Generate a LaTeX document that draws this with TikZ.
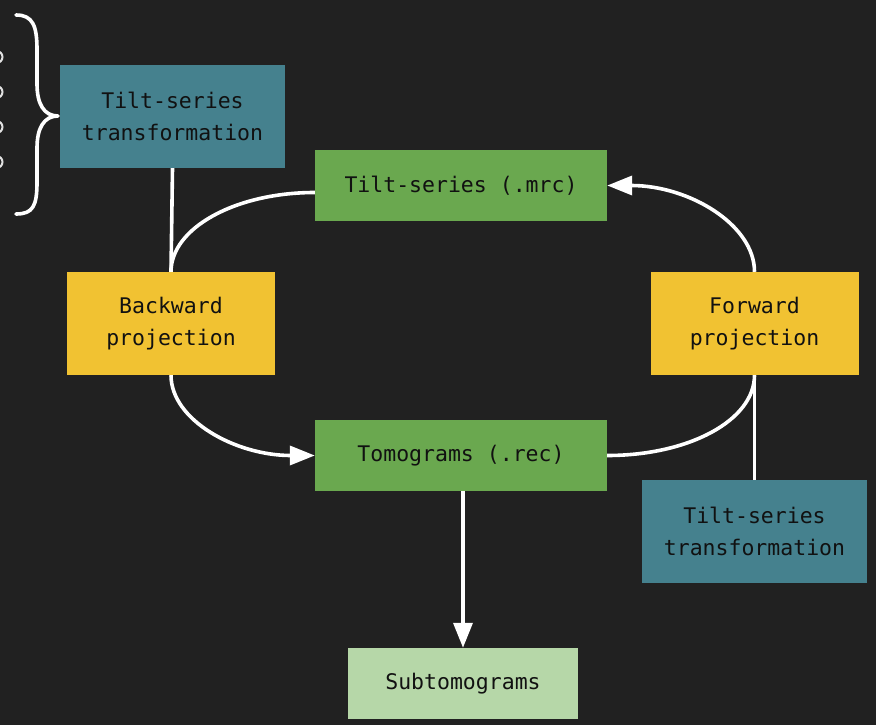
\documentclass[tikz,border=0pt]{standalone}
\usepackage{fontspec}
\newfontfamily\boxfont{DejaVu Sans Mono}
\usetikzlibrary{arrows.meta}

\definecolor{bgdark}{HTML}{212121}
\definecolor{tealbox}{HTML}{45818E}
\definecolor{greenbox}{HTML}{6AA84F}
\definecolor{yellowbox}{HTML}{F1C232}
\definecolor{palegreen}{HTML}{B6D7A8}
\definecolor{inkdark}{HTML}{111111}

\tikzset{
  stagebox/.style={rectangle, inner sep=0pt, text=inkdark, align=center,
    font=\boxfont\fontsize{21.5}{32}\selectfont},
  transbox/.style={stagebox, fill=tealbox, minimum width=225pt, minimum height=103pt},
  filebox/.style={stagebox, fill=greenbox, minimum width=292pt, minimum height=71pt},
  projbox/.style={stagebox, fill=yellowbox, minimum width=208pt, minimum height=103pt},
  outbox/.style={stagebox, fill=palegreen, minimum width=230pt, minimum height=71pt},
  link/.style={draw=white, line width=3.6pt},
  flow/.style={link, -{Triangle[length=25pt,width=19pt]}},
}

\begin{document}
\begin{tikzpicture}[x=1pt, y=-1pt]
  % canvas
  \fill[bgdark] (0,0) rectangle (876,725);
  \useasboundingbox (0,0) rectangle (876,725);

  % small rings cut by the left edge
  \foreach \yy in {57,92,127,162}
    \draw[white!88!black, line width=2pt] (-3.5,\yy) circle (6);

  % curly brace grouping them
  \draw[white, line width=3.6pt, line cap=round, line join=round]
    (16,15) .. controls (33,15) and (37,26) .. (37,50) -- (37,84)
    .. controls (37,104) and (44,116) .. (58,116)
    .. controls (44,116) and (37,128) .. (37,148) -- (37,182)
    .. controls (37,206) and (33,214) .. (16,214);

  % boxes
  \node[transbox]  (tstop)  at (172.5,116.5) {Tilt-series\\transformation};
  \node[filebox]   (mrc)    at (461,185.5)   {Tilt-series (.mrc)};
  \node[projbox]   (back)   at (171,323.5)   {Backward\\projection};
  \node[projbox]   (fwd)    at (754.5,323.5) {Forward\\projection};
  \node[filebox]   (rec)    at (461,455.5)   {Tomograms (.rec)};
  \node[transbox]  (tsbot)  at (754.5,531.5) {Tilt-series\\transformation};
  \node[outbox]    (sub)    at (463,683.5)   {Subtomograms};

  % transformations feeding the projections
  \draw[link] (tstop.south) -- (back.north);
  \draw[link] (fwd.south) -- (tsbot.north);

  % reconstruction loop
  \draw[link] (back.north)
    .. controls +(0,-44) and +(-79,0) .. ([yshift=-7pt]mrc.west);
  \draw[flow] (back.south)
    .. controls +(0,45) and +(-79,0) .. (rec.west);
  \draw[link] (fwd.south)
    .. controls +(0,45) and +(82,0) .. (rec.east);
  \draw[flow] (fwd.north)
    .. controls +(0,-47) and +(82,0) .. (mrc.east);

  % extraction
  \draw[flow] (rec.south -| sub.north) -- (sub.north);
\end{tikzpicture}
\end{document}
